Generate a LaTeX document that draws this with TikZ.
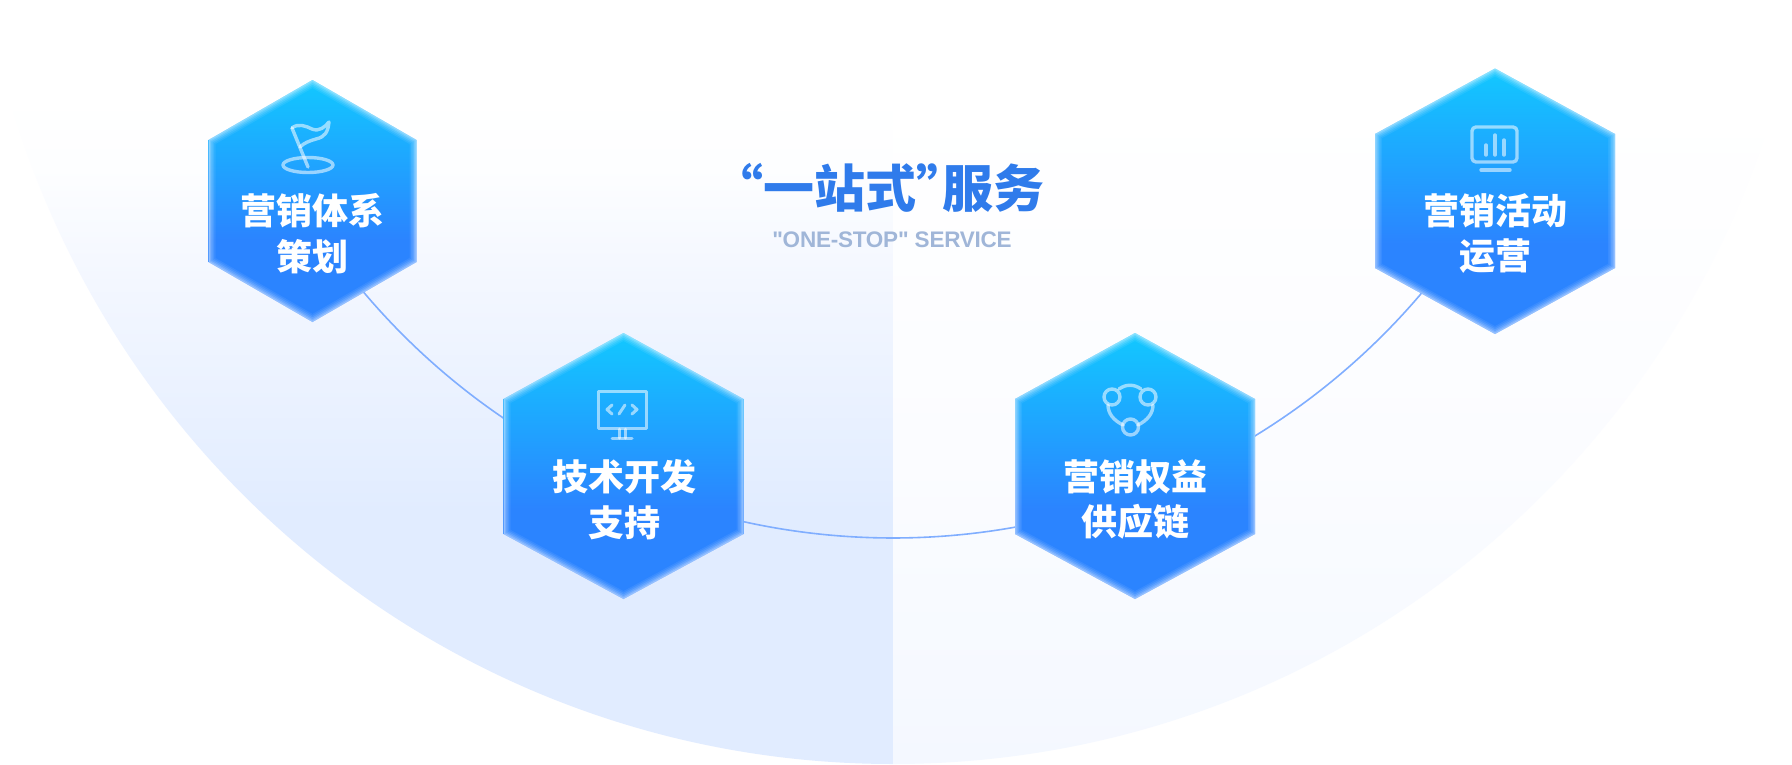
\documentclass[tikz,border=0pt]{standalone}
\usepackage{fontspec}
\usetikzlibrary{calc}
\newfontfamily\cjk{Noto Sans CJK SC}
\newfontfamily\cjkheavy{Noto Sans CJK SC Black}
\newfontfamily\latinsub[LetterSpace=-1]{Liberation Sans}
\definecolor{titleblue}{HTML}{2F7BEB}
\definecolor{subblue}{HTML}{A0B6D8}
\definecolor{linkblue}{HTML}{80AEFF}
\definecolor{hextop}{HTML}{12C8FF}
\definecolor{hexbot}{HTML}{2B84FF}
\definecolor{leftbot}{HTML}{E1ECFF}
\definecolor{leftmid}{HTML}{F5F8FF}
\definecolor{lefthigh}{HTML}{FDFEFF}
\definecolor{rightbot}{HTML}{F4F8FF}
\definecolor{rightmid}{HTML}{FBFCFF}
\pgfdeclareverticalshading{hexshade}{100bp}{color(0bp)=(hexbot);color(25bp)=(hexbot);color(42bp)=(hexbot);color(75bp)=(hextop);color(100bp)=(hextop)}
\pgfdeclareverticalshading{leftshade}{100bp}{color(0bp)=(leftbot);color(25bp)=(leftbot);color(41.5bp)=(leftbot);color(58bp)=(leftmid);color(64bp)=(lefthigh);color(69bp)=(white);color(100bp)=(white)}
\pgfdeclareverticalshading{rightshade}{100bp}{color(0bp)=(rightbot);color(25bp)=(rightbot);color(45bp)=(rightmid);color(69bp)=(white);color(100bp)=(white)}
\pgfdeclarelayer{bgl}\pgfdeclarelayer{connl}\pgfdeclarelayer{hexl}
\pgfsetlayers{bgl,connl,hexl,main}
\tikzset{
  hexlabel/.style={inner sep=0pt,align=center,text=white,font=\cjk\bfseries\fontsize{36}{45.5}\selectfont},
  conn/.style={draw=linkblue,line width=1.6pt},
  iconline/.style={draw=white,draw opacity=.55,line width=3.4pt,line cap=round,line join=round},
  iconthin/.style={iconline,line width=3pt},
}
% centre x, top y, upper y, lower y, bottom y, half width
\newcommand{\hexa}[6]{%
  \begin{scope}
    \path[shading=hexshade] (#1,#2) -- (#1+#6,#3) -- (#1+#6,#4) -- (#1,#5) -- (#1-#6,#4) -- (#1-#6,#3) -- cycle;
    \clip (#1,#2) -- (#1+#6,#3) -- (#1+#6,#4) -- (#1,#5) -- (#1-#6,#4) -- (#1-#6,#3) -- cycle;
    \foreach \wd/\op in {14/.07,11/.09,8/.12,5/.16,2.5/.2}{
      \draw[white,opacity=\op,line width=\wd pt] (#1,#2) -- (#1+#6,#3) -- (#1+#6,#4) -- (#1,#5) -- (#1-#6,#4) -- (#1-#6,#3) -- cycle;
    }
  \end{scope}}
\begin{document}
\begin{tikzpicture}[x=1pt,y=-1pt]
\useasboundingbox (0,0) rectangle (1792,764);
\coordinate (C) at (893,-155);
% labels
\node[hexlabel] (h1) at (312.5,233.5) {营销体系\\策划};
\node[hexlabel] (h2) at (624,499.5) {技术开发\\支持};
\node[hexlabel] (h3) at (1135,499.5) {营销权益\\供应链};
\node[hexlabel] (h4) at (1495,233.5) {营销活动\\运营};
\node[inner sep=0pt,anchor=west,text=titleblue,font=\cjkheavy\fontsize{51}{57}\selectfont] (title) at (712.5,187.5) {“一站式”\hspace{-25.5pt}服务};
\node[inner sep=0pt,text=subblue,font=\latinsub\bfseries\fontsize{22.5}{28}\selectfont] (subtitle) at (892,240) {"ONE-STOP" SERVICE};
% background half disks
\begin{pgfonlayer}{bgl}
  \fill[white] (0,0) rectangle (1792,764);
  \begin{scope}
    \clip (893,-155) circle (919);
    \path[shading=leftshade] (0,0) rectangle (893,764);
    \path[shading=rightshade] (893,0) rectangle (1792,764);
  \end{scope}
\end{pgfonlayer}
% connectors
\coordinate (h1o) at ($(C)+(139.7:693)$);
\coordinate (h2i) at ($(C)+(124.2:693)$);
\coordinate (h2o) at ($(C)+(102.5:693)$);
\coordinate (h3i) at ($(C)+(79.95:693)$);
\coordinate (h3o) at ($(C)+(58.6:693)$);
\coordinate (h4i) at ($(C)+(40.3:693)$);
\begin{pgfonlayer}{connl}
  \draw[conn] (h1.center) -- (h1o) .. controls +(49.7:62.6) and +(214.2:62.6) .. (h2i) -- (h2.center);
  \draw[conn] (h2.center) -- (h2o) .. controls +(12.5:91.2) and +(169.95:91.2) .. (h3i) -- (h3.center);
  \draw[conn] (h3.center) -- (h3o) .. controls +(-31.4:73.9) and +(130.3:73.9) .. (h4i) -- (h4.center);
\end{pgfonlayer}
% hexagons
\begin{pgfonlayer}{hexl}
  \hexa{312.5}{80}{140}{262}{322}{104}
  \hexa{623.5}{333}{399}{534}{599}{120}
  \hexa{1135}{333}{399}{534}{599}{120}
  \hexa{1495}{68.5}{134}{268}{334}{120}
\end{pgfonlayer}
% flag icon
\draw[iconline] (308,165) ellipse (25 and 7.5);
\draw[iconline] (292,128) -- (308,167);
\draw[iconline] (292,128) .. controls (298,123) and (306,126) .. (312,129) .. controls (319,132) and (325,127) .. (329,122) .. controls (328,132) and (325,137) .. (316,139) .. controls (309,141) and (304,143) .. (300,147);
% code monitor icon
\draw[iconthin] (598,391) rectangle (646,428);
\draw[iconthin] (619,429) -- (619,438);
\draw[iconthin] (625,429) -- (625,438);
\draw[iconthin] (612,438) -- (632,438);
\draw[iconthin] (612,405) -- (607,409.5) -- (612,414);
\draw[iconthin] (632,405) -- (637,409.5) -- (632,414);
\draw[iconthin] (619,414) -- (625,405);
% rights icon
\draw[iconline] (1112,397) circle (8);
\draw[iconline] (1148,397) circle (8);
\draw[iconline] (1130.5,427) circle (8);
\draw[iconline] (1119,389) .. controls (1126,384) and (1134,384) .. (1141,389);
\draw[iconline] (1108,405) .. controls (1108,413) and (1113,420) .. (1123,425);
\draw[iconline] (1153,405) .. controls (1153,413) and (1148,420) .. (1138,425);
% chart monitor icon
\draw[iconline,rounded corners=4pt] (1472,127) rectangle (1517,162);
\draw[iconline] (1486,145) -- (1486,155);
\draw[iconline] (1495,135) -- (1495,155);
\draw[iconline] (1504,140) -- (1504,155);
\draw[iconline] (1481,170) -- (1510,170);
\end{tikzpicture}
\end{document}
